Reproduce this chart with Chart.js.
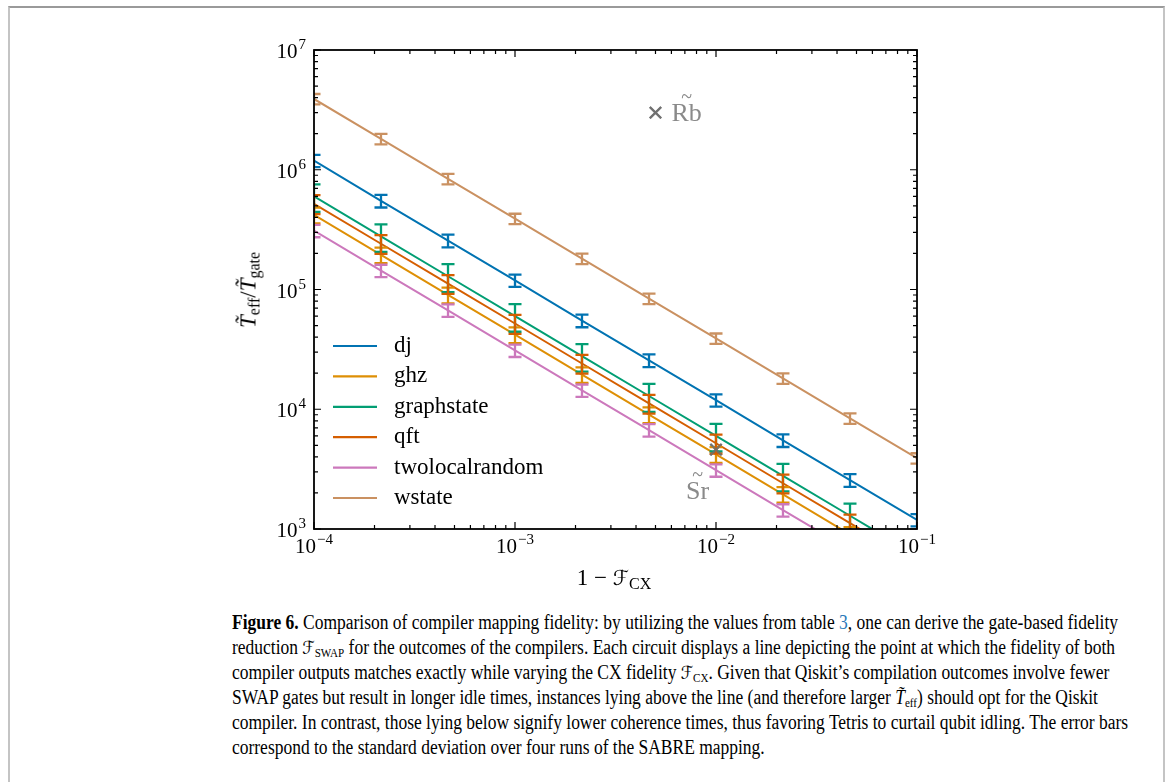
<!DOCTYPE html>
<html>
<head>
<meta charset="utf-8">
<script src="https://cdn.jsdelivr.net/npm/chart.js@4.4.1/dist/chart.umd.min.js"></script>
<style>
  html, body { margin: 0; padding: 0; background: #fff; }
  body { width: 1168px; height: 782px; position: relative; overflow: hidden; font-family: 'Liberation Serif', serif; }
  #frame { position: absolute; left: 8px; top: 6px; width: 1153px; height: 800px; border: 2px solid #c4c4c4; border-top-color: #9a9a9a; }
  #chartBox { position: absolute; left: 0; top: 0; width: 1168px; height: 600px; }
  .axisLabel { position: absolute; font-size: 23px; color: #000; white-space: nowrap; line-height: 1; }
  .axisLabel sub { font-size: 16px; vertical-align: -4px; line-height: 0; }
  #ylabel { left: 248px; top: 290px; transform: translate(-50%, -50%) rotate(-90deg); }
  #xlabel { left: 614px; top: 577px; transform: translate(-50%, -50%); }
  .cal { font-family: 'DejaVu Serif', 'DejaVu Sans', serif; font-size: 0.9em; }
  #caption { position: absolute; left: 232px; top: 610px; font-size: 20.5px; line-height: 25px; color: #000; }
  #caption div { white-space: nowrap; transform-origin: 0 0; height: 25px; }
  #caption sub { font-size: 13px; line-height: 0; vertical-align: -3px; }
  #caption .ref { color: #2a7ab9; }
</style>
</head>
<body>
<div id="frame"></div>
<div id="chartBox"><canvas id="chart"></canvas></div>
<div id="ylabel" class="axisLabel"><i>T&#771;</i><sub>eff</sub>/<i>T&#771;</i><sub>gate</sub></div>
<div id="xlabel" class="axisLabel">1 &minus; <span class="cal">ℱ</span><sub>CX</sub></div>
<div id="caption">
  <div><b>Figure 6.</b> Comparison of compiler mapping fidelity: by utilizing the values from table <span class="ref">3</span>, one can derive the gate-based fidelity</div>
  <div>reduction <span class="cal">ℱ</span><sub>SWAP</sub> for the outcomes of the compilers. Each circuit displays a line depicting the point at which the fidelity of both</div>
  <div>compiler outputs matches exactly while varying the CX fidelity <span class="cal">ℱ</span><sub>CX</sub>. Given that Qiskit’s compilation outcomes involve fewer</div>
  <div>SWAP gates but result in longer idle times, instances lying above the line (and therefore larger <i>T&#771;</i><sub>eff</sub>) should opt for the Qiskit</div>
  <div>compiler. In contrast, those lying below signify lower coherence times, thus favoring Tetris to curtail qubit idling. The error bars</div>
  <div>correspond to the standard deviation over four runs of the SABRE mapping.</div>
</div>
<script>
'use strict';

// CX-Infidelität 1 - F_CX (x-Achse)
const infidelity = [1e-4, 2.154e-4, 4.642e-4, 1e-3, 2.154e-3, 4.642e-3, 1e-2, 2.154e-2, 4.642e-2, 1e-1];

const circuits = ['dj', 'ghz', 'graphstate', 'qft', 'twolocalrandom', 'wstate'];

// T_eff / T_gate pro Schaltung (Mittelwerte)
const djValues = [1.19e6, 5.5e5, 2.56e5, 1.19e5, 5.5e4, 2.56e4, 1.19e4, 5.5e3, 2.56e3, 1.19e3];
const ghzValues = [4.2e5, 1.95e5, 9.0e4, 4.2e4, 1.95e4, 9.0e3, 4.2e3, 1.95e3, 900, 420];
const graphstateValues = [6.0e5, 2.78e5, 1.29e5, 6.0e4, 2.78e4, 1.29e4, 6.0e3, 2.78e3, 1.29e3, 600];
const qftValues = [5.2e5, 2.41e5, 1.12e5, 5.2e4, 2.41e4, 1.12e4, 5.2e3, 2.41e3, 1.12e3, 520];
const twolocalrandomValues = [3.1e5, 1.44e5, 6.7e4, 3.1e4, 1.44e4, 6.7e3, 3.1e3, 1.44e3, 670, 310];
const wstateValues = [3.9e6, 1.81e6, 8.4e5, 3.9e5, 1.81e5, 8.4e4, 3.9e4, 1.81e4, 8.4e3, 3.9e3];

// Standardabweichung über vier SABRE-Läufe
const djErrors = [1.4e5, 6.6e4, 3.1e4, 1.4e4, 6.6e3, 3.1e3, 1.4e3, 660, 310, 140];
const ghzErrors = [6.3e4, 2.9e4, 1.35e4, 6.3e3, 2.9e3, 1.35e3, 630, 290, 135, 63];
const graphstateErrors = [1.56e5, 7.2e4, 3.4e4, 1.56e4, 7.2e3, 3.4e3, 1.56e3, 720, 340, 156];
const qftErrors = [9.4e4, 4.3e4, 2.0e4, 9.4e3, 4.3e3, 2.0e3, 940, 430, 200, 94];
const twolocalrandomErrors = [3.7e4, 1.7e4, 8.0e3, 3.7e3, 1.7e3, 800, 370, 170, 80, 37];
const wstateErrors = [3.9e5, 1.8e5, 8.4e4, 3.9e4, 1.8e4, 8.4e3, 3.9e3, 1.8e3, 840, 390];

// Referenzpunkte (Atomsorten)
const refLabels = ['Rb', 'Sr'];
const refX = [5e-3, 1e-2];
const refY = [3.0e6, 4.6e3];

// Achsenbeschriftungen
const xTickValues = [1e-4, 1e-3, 1e-2, 1e-1];
const xTickExponents = ['\u22124', '\u22123', '\u22122', '\u22121'];
const yTickValues = [1e3, 1e4, 1e5, 1e6, 1e7];
const yTickExponents = ['3', '4', '5', '6', '7'];

const seriesValues = [djValues, ghzValues, graphstateValues, qftValues, twolocalrandomValues, wstateValues];
const seriesErrors = [djErrors, ghzErrors, graphstateErrors, qftErrors, twolocalrandomErrors, wstateErrors];
const colors = ['#0173b2', '#de8f05', '#029e73', '#d55e00', '#cc78bc', '#ca9161'];

const FONT = '"Liberation Serif", serif';

// Fehlerbalken mit Kappen
const errorBars = {
  id: 'errorBars',
  afterDatasetsDraw(chart) {
    const { ctx, chartArea: a, scales: { x, y } } = chart;
    ctx.save();
    ctx.beginPath();
    ctx.rect(a.left, a.top, a.right - a.left, a.bottom - a.top);
    ctx.clip();
    chart.data.datasets.forEach(ds => {
      if (!ds.errors) return;
      ctx.strokeStyle = ds.borderColor;
      ctx.lineWidth = 2.3;
      ds.data.forEach((p, i) => {
        const px = x.getPixelForValue(p.x);
        const top = y.getPixelForValue(p.y + ds.errors[i]);
        const bot = y.getPixelForValue(p.y - ds.errors[i]);
        ctx.beginPath();
        ctx.moveTo(px, top);
        ctx.lineTo(px, bot);
        ctx.moveTo(px - 6.5, top);
        ctx.lineTo(px + 6.5, top);
        ctx.moveTo(px - 6.5, bot);
        ctx.lineTo(px + 6.5, bot);
        ctx.stroke();
      });
    });
    // Referenzmarker obenauf
    const refMeta = chart.getDatasetMeta(chart.data.datasets.length - 1);
    refMeta.data.forEach(pt => pt.draw(ctx, a));
    ctx.restore();
  },
};

function drawPower(ctx, exp, x0, yMid, align) {
  ctx.font = `21px ${FONT}`;
  const wb = ctx.measureText('10').width;
  ctx.font = `15px ${FONT}`;
  const we = ctx.measureText(exp).width;
  const total = wb + we + 1;
  const left = align === 'right' ? x0 - total : x0 - total / 2;
  ctx.textAlign = 'left';
  ctx.textBaseline = 'alphabetic';
  ctx.font = `21px ${FONT}`;
  ctx.fillText('10', left, yMid + 7);
  ctx.font = `15px ${FONT}`;
  ctx.fillText(exp, left + wb + 1, yMid - 2);
}

// Rahmen, nach innen zeigende Ticks und Beschriftungen
const frameAndTicks = {
  id: 'frameAndTicks',
  afterDraw(chart) {
    const { ctx, chartArea: a, scales: { x, y } } = chart;
    ctx.save();
    ctx.strokeStyle = '#000';
    ctx.fillStyle = '#000';
    ctx.lineWidth = 1.2;
    ctx.beginPath();
    for (let d = 0; d < xTickValues.length; d++) {
      for (let m = 1; m <= 9; m++) {
        const v = xTickValues[d] * m;
        if (v > xTickValues[xTickValues.length - 1] * 1.0001) continue;
        const len = m === 1 ? 7 : 4;
        const px = x.getPixelForValue(v);
        ctx.moveTo(px, a.bottom);
        ctx.lineTo(px, a.bottom - len);
        ctx.moveTo(px, a.top);
        ctx.lineTo(px, a.top + len);
      }
    }
    for (let d = 0; d < yTickValues.length; d++) {
      for (let m = 1; m <= 9; m++) {
        const v = yTickValues[d] * m;
        if (v > yTickValues[yTickValues.length - 1] * 1.0001) continue;
        const len = m === 1 ? 7 : 4;
        const py = y.getPixelForValue(v);
        ctx.moveTo(a.left, py);
        ctx.lineTo(a.left + len, py);
        ctx.moveTo(a.right, py);
        ctx.lineTo(a.right - len, py);
      }
    }
    ctx.stroke();
    ctx.lineWidth = 1.8;
    ctx.strokeRect(a.left, a.top, a.right - a.left, a.bottom - a.top);

    xTickValues.forEach((v, i) =>
      drawPower(ctx, xTickExponents[i], x.getPixelForValue(v), a.bottom + 17, 'center')
    );
    yTickValues.forEach((v, i) =>
      drawPower(ctx, yTickExponents[i], a.left - 8, y.getPixelForValue(v) + 1, 'right')
    );

    // Legende
    ctx.font = `23px ${FONT}`;
    ctx.textBaseline = 'middle';
    ctx.textAlign = 'left';
    circuits.forEach((name, i) => {
      const ly = 346 + i * 30.4;
      ctx.strokeStyle = colors[i];
      ctx.lineWidth = 2.2;
      ctx.beginPath();
      ctx.moveTo(333, ly);
      ctx.lineTo(377, ly);
      ctx.stroke();
      ctx.fillStyle = '#000';
      ctx.fillText(name, 394, ly);
    });

    // Referenzbeschriftungen mit Tilde
    ctx.fillStyle = '#8a8a8a';
    const offsets = [[16, 8], [-30, 49]];
    refLabels.forEach((label, i) => {
      const px = x.getPixelForValue(refX[i]);
      const py = y.getPixelForValue(refY[i]);
      const [dx, dy] = offsets[i];
      ctx.font = `26px ${FONT}`;
      ctx.textBaseline = 'alphabetic';
      const w = ctx.measureText(label).width;
      ctx.fillText(label, px + dx, py + dy);
      ctx.font = `20px ${FONT}`;
      ctx.textAlign = 'center';
      ctx.fillText('~', px + dx + w / 2, py + dy - 18);
      ctx.textAlign = 'left';
    });
    ctx.restore();
  },
};

const datasets = circuits.map((name, i) => ({
  label: name,
  data: infidelity.map((xv, j) => ({ x: xv, y: seriesValues[i][j] })),
  errors: seriesErrors[i],
  borderColor: colors[i],
  backgroundColor: colors[i],
  borderWidth: 2,
  pointRadius: 0,
  tension: 0,
  fill: false,
}));

datasets.push({
  type: 'scatter',
  label: 'reference',
  data: refX.map((xv, i) => ({ x: xv, y: refY[i] })),
  pointStyle: 'crossRot',
  pointRadius: 8,
  borderColor: 'rgba(110, 110, 110, 0.85)',
  backgroundColor: 'rgba(110, 110, 110, 0.85)',
  borderWidth: 2.2,
  showLine: false,
});

function buildChart() {
  new Chart(document.getElementById('chart'), {
    type: 'line',
    data: { datasets },
    options: {
      responsive: true,
      maintainAspectRatio: false,
      animation: false,
      layout: { padding: { left: 314, top: 50, right: 251, bottom: 71 } },
      plugins: {
        legend: { display: false },
        tooltip: { enabled: false },
      },
      scales: {
        x: { type: 'logarithmic', min: 1e-4, max: 1e-1, display: false },
        y: { type: 'logarithmic', min: 1e3, max: 1e7, display: false },
      },
    },
    plugins: [errorBars, frameAndTicks],
  });
}

// Bildunterschrift auf Spaltenbreite stauchen
function fitCaption() {
  const lines = document.querySelectorAll('#caption div');
  const first = lines[0];
  first.style.display = 'inline-block';
  const scale = 886 / first.getBoundingClientRect().width;
  first.style.display = '';
  lines.forEach(l => (l.style.transform = `scaleX(${scale})`));
}

Promise.all([
  document.fonts.load(`23px ${FONT}`),
  document.fonts.load(`italic 23px ${FONT}`),
  document.fonts.load(`bold 20px ${FONT}`),
])
  .catch(() => {})
  .then(() => {
    buildChart();
    fitCaption();
  });
</script>
</body>
</html>
